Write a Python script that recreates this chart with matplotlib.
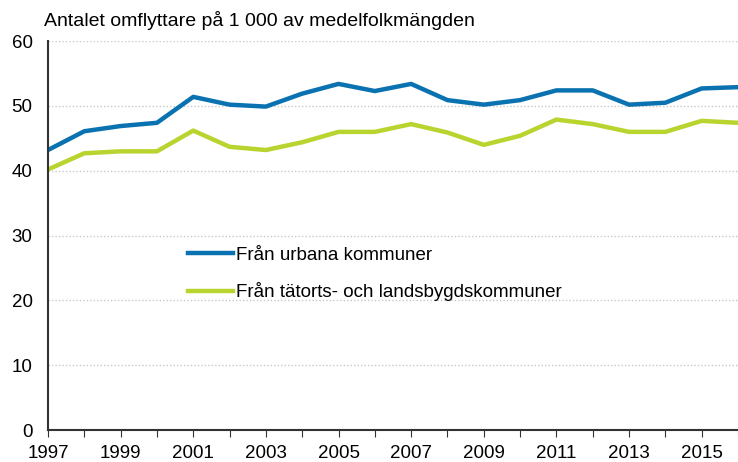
import matplotlib
matplotlib.use("Agg")
import matplotlib.pyplot as plt

plt.rcParams['font.family'] = ['Liberation Sans', 'DejaVu Sans']

years = list(range(1997, 2017))
urban = [43.2, 46.1, 46.9, 47.4, 51.4, 50.2, 49.9, 51.9, 53.4, 52.3,
         53.4, 50.9, 50.2, 50.9, 52.4, 52.4, 50.2, 50.5, 52.7, 52.9]
rural = [40.2, 42.7, 43.0, 43.0, 46.2, 43.7, 43.2, 44.4, 46.0, 46.0,
         47.2, 45.9, 44.0, 45.4, 47.9, 47.2, 46.0, 46.0, 47.7, 47.4]
labels = ["Från urbana kommuner", "Från tätorts- och landsbygdskommuner"]
title = "Antalet omflyttare på 1 000 av medelfolkmängden"

fig = plt.figure(figsize=(7.38, 4.62), dpi=100)
ax = fig.add_axes([0.065, 0.069, 0.935, 0.842])

ax.plot(years, urban, color='#0a72b0', lw=3.2, label=labels[0])
ax.plot(years, rural, color='#b8d42e', lw=3.2, label=labels[1])

ax.set_xlim(1997, 2016)
ax.set_ylim(0, 60)
ax.set_yticks(range(0, 61, 10))
ax.set_xticks(range(1997, 2017))
ax.set_xticklabels([str(y) if y % 2 == 1 else "" for y in years])
ax.tick_params(axis='x', direction='out', length=5, color='#333333', labelsize=13.5, pad=6)
ax.tick_params(axis='y', length=0, labelsize=13.5, pad=11)
ax.grid(axis='y', color='#c8c8c8', linestyle=(0, (1, 1.5)), lw=1)
ax.set_axisbelow(True)

for s in ['top', 'right']:
    ax.spines[s].set_visible(False)
for s in ['left', 'bottom']:
    ax.spines[s].set_color('#333333')
    ax.spines[s].set_linewidth(1.5)

ax.legend(loc='upper left', bbox_to_anchor=(0.203, 0.472), frameon=False,
          borderaxespad=0, borderpad=0, fontsize=13.5, handlelength=2.4,
          handletextpad=0.15, labelspacing=1.0)

fig.text(0.06, 0.955, title, fontsize=14, va='center', ha='left')

fig.savefig("out.png", dpi=100)
